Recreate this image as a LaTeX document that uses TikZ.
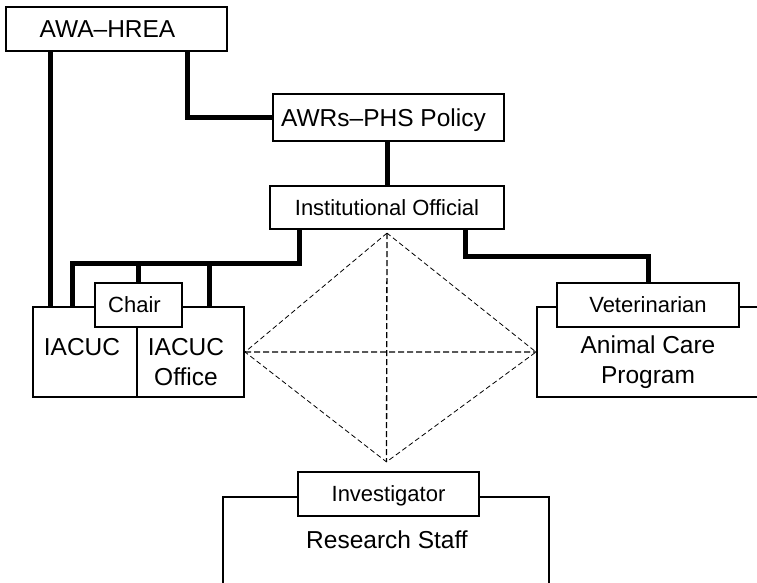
\documentclass[tikz,border=0pt]{standalone}
\usepackage{fontspec}
\setmainfont{Liberation Sans}
\usetikzlibrary{calc}

\begin{document}
\begin{tikzpicture}[
  x=1pt, y=-1pt,
  big/.style={font=\fontsize{24.5}{30}\selectfont},
  small/.style={font=\fontsize{22}{26}\selectfont},
  b/.style={draw, line width=2.2pt, fill=white, inner sep=0pt, text depth=0pt},
  fr/.style={draw, line width=2pt, inner sep=0pt},
  lk/.style={line width=5pt},
  rel/.style={line width=0.8pt, dash pattern=on 5pt off 3pt},
  relx/.style={line width=1.3pt, dash pattern=on 6pt off 3pt}
]
\useasboundingbox (0,0) rectangle (757,583);
\clip (0,0) rectangle (757,583);

\node[b, big, minimum width=221pt, minimum height=44pt] (awa) at (116.5,29) {AWA--HREA\kern18pt};
\node[b, big, minimum width=231pt, minimum height=47pt] (awrs) at (388.5,117.5) {AWRs--PHS Policy\kern10pt};
\node[b, small, minimum width=234pt, minimum height=43pt] (io) at (387,207.5) {Institutional Official};

\node[fr, minimum width=104pt, minimum height=90pt] (iacuc) at (85,352) {};
\node[fr, minimum width=107pt, minimum height=90pt] (office) at (190.5,352) {};
\node[big] (iacuc-t) at (82,347) {IACUC};
\node[big, align=center] (office-t) at (186,362) {IACUC\\Office};
\node[b, small, minimum width=87pt, minimum height=44pt] (chair) at (138.5,305) {Chair\kern8pt};

\node[fr, anchor=west, minimum width=260pt, minimum height=90pt] (acp) at (536,352) {};
\node[big, align=center] (acp-t) at (648,362) {Animal Care\\Program};
\node[b, small, minimum width=182pt, minimum height=44pt] (vet) at (648,305) {Veterinarian};

\node[fr, anchor=north, minimum width=326pt, minimum height=120pt] (rs) at (386,496) {};
\node[big] (rs-t) at (387,540) {Research Staff};
\node[b, small, minimum width=181pt, minimum height=44pt] (inv) at (388.5,494) {Investigator};

\coordinate (a1) at ([xshift=-66.5pt]awa.south);
\draw[lk] (a1) -- (a1 |- iacuc.north);
\draw[lk] ([xshift=70.5pt]awa.south) |- (awrs.west);
\draw[lk] (io.north) -- (io.north |- awrs.south);

\coordinate (ibus) at ($(io.south)+(-88,33)$);
\draw[lk] ($(io.south)+(-88,0)$) -- (ibus) -| ([xshift=40pt]iacuc.north west);
\draw[lk] (chair.north) -- (chair.north |- ibus);
\coordinate (o1) at ([xshift=19pt]office.north);
\draw[lk] (o1) -- (o1 |- ibus);
\draw[lk] ($(io.south)+(78,0)$) -- ++(0,26) -| (vet.north);

\coordinate (dtop) at ($(io.south)+(0,3)$);
\coordinate (dbot) at ($(inv.north)+(-2,-9)$);
\draw[rel] (dtop) -- (office.east) -- (dbot) -- (acp.west) -- cycle;
\draw[relx] (dtop) -- (dbot) (office.east) -- (acp.west);
\end{tikzpicture}
\end{document}
